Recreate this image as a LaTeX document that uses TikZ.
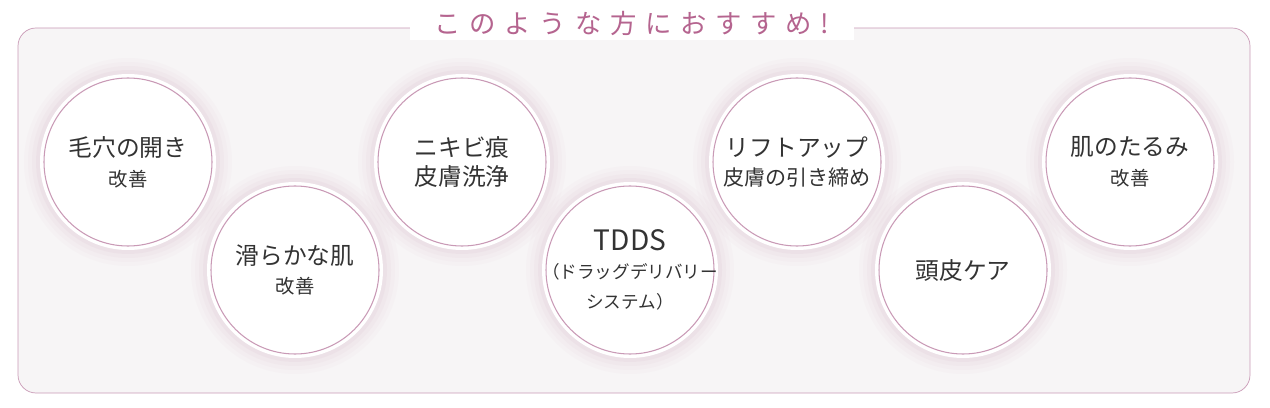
\documentclass[tikz,border=0pt]{standalone}
\usepackage{fontspec}
\newfontfamily\cjk{Noto Sans CJK JP}
\definecolor{mauve}{HTML}{C99AB6}
\definecolor{titlec}{HTML}{B5648F}
\definecolor{panel}{HTML}{F7F5F6}
\definecolor{txt}{HTML}{333333}
\tikzset{
  bubble/.style={inner sep=0pt,align=center,text=txt,font=\cjk\fontsize{13.5}{17}\selectfont},
}
\newcommand{\glowcirc}[2]{%
  \foreach \r/\o in {104/0.035,100/0.045,96/0.06,92/0.08}{\fill[mauve,opacity=\o] (#1,#2) circle (\r);}
  \fill[white] (#1,#2) circle (88);
  \draw[mauve,line width=0.6pt] (#1,#2) circle (84);
}
\begin{document}
\begin{tikzpicture}[x=0.02cm,y=-0.02cm]
\useasboundingbox (0,0) rectangle (1270,408);
\draw[mauve,fill=panel,rounded corners=18*0.02cm] (18,28) rectangle (1250,393);
\foreach \x/\y in {128/162,295/270,462/162,630/270,797/162,963/270,1130/162}{\glowcirc{\x}{\y}}
\node[fill=white,inner xsep=14pt,inner ysep=2pt,text=titlec,font=\cjk\fontsize{15}{17}\selectfont] (title) at (632,24) {こ\,\,の\,\,よ\,\,う\,\,な\,\,方\,\,に\,\,お\,\,す\,\,す\,\,め\,\,!};
\node[bubble] (a) at (128,162) {毛穴の開き\\{\fontsize{11}{16}\selectfont 改善}};
\node[bubble] (b) at (295,270) {滑らかな肌\\{\fontsize{11}{16}\selectfont 改善}};
\node[bubble] (c) at (462,162) {ニキビ痕\\皮膚洗浄};
\node[bubble] (d) at (630,270) {{\fontsize{16}{18}\selectfont TDDS}\\[-1pt]{\fontsize{10}{13}\selectfont（ドラッグデリバリー}\\{\fontsize{10}{13}\selectfont システム）}};
\node[bubble] (e) at (797,162) {リフトアップ\\{\fontsize{12}{16}\selectfont 皮膚の引き締め}};
\node[bubble] (f) at (963,270) {頭皮ケア};
\node[bubble] (g) at (1130,162) {肌のたるみ\\{\fontsize{11}{16}\selectfont 改善}};
\end{tikzpicture}
\end{document}
